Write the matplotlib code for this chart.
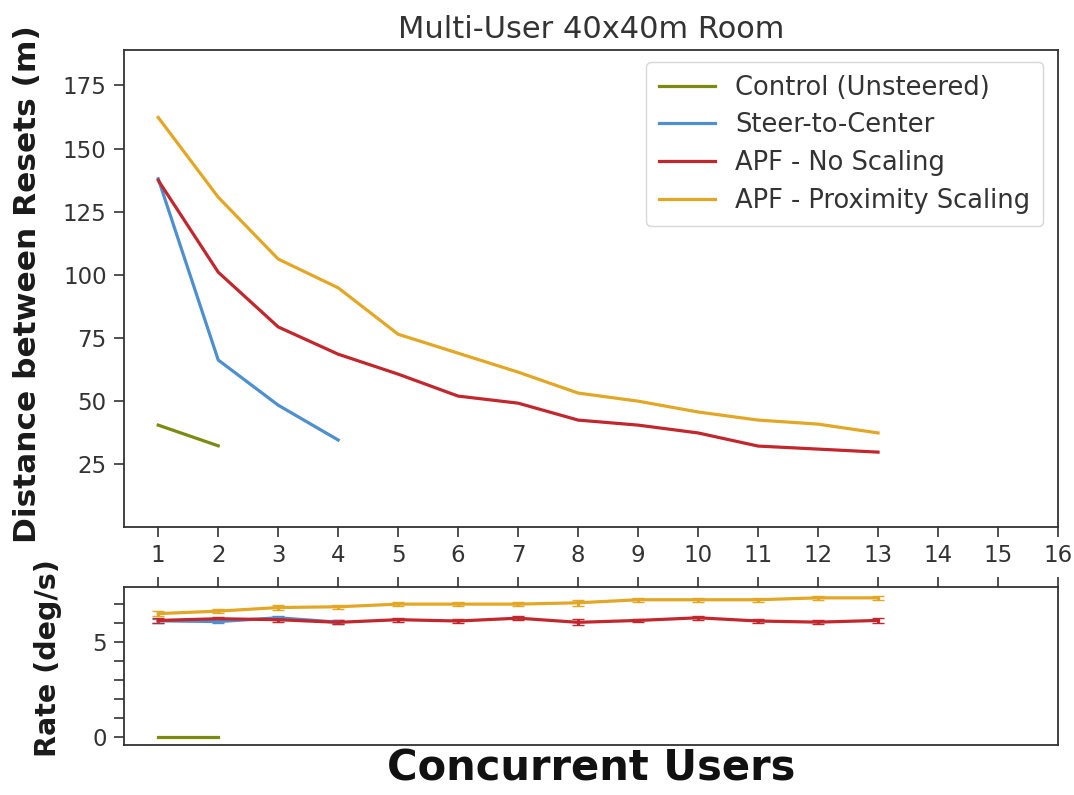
import matplotlib
matplotlib.use("Agg")
import matplotlib.pyplot as plt
from matplotlib.ticker import MultipleLocator

users = list(range(1, 14))

# Distance between resets (m)
control_dist = [40.4, 32.2]
stc_dist = [138.0, 66.2, 48.3, 34.5]
apf_no_dist = [137.4, 101.0, 79.3, 68.5, 60.6, 51.9, 49.1, 42.4, 40.4, 37.3, 32.1, 30.9, 29.7]
apf_prox_dist = [162.3, 130.7, 106.2, 94.8, 76.4, 68.9, 61.4, 53.1, 49.9, 45.6, 42.4, 40.8, 37.3]

# Rate (deg/s)
control_rate = [0.0, 0.0]
stc_rate = [6.12, 6.08, 6.28, 6.05]
apf_no_rate = [6.14, 6.23, 6.18, 6.04, 6.18, 6.11, 6.26, 6.04, 6.14, 6.28, 6.11, 6.05, 6.14]
apf_prox_rate = [6.5, 6.63, 6.82, 6.86, 7.0, 7.0, 7.0, 7.07, 7.23, 7.23, 7.23, 7.33, 7.33]
rate_err = [0.12, 0.1, 0.12, 0.1, 0.1, 0.1, 0.1, 0.15, 0.1, 0.1, 0.1, 0.1, 0.12]

labels = ["Control (Unsteered)", "Steer-to-Center", "APF - No Scaling", "APF - Proximity Scaling"]
colors = ["#7d8a12", "#4e8fcf", "#c1272d", "#e3a726"]

txt = "#333333"
plt.rcParams["text.color"] = txt
plt.rcParams["axes.labelcolor"] = txt
plt.rcParams["xtick.color"] = txt
plt.rcParams["ytick.color"] = txt
plt.rcParams["axes.edgecolor"] = "#333333"

fig = plt.figure(figsize=(10.74, 7.95), dpi=100)
ax1 = fig.add_axes([0.1155, 0.337, 0.8696, 0.600])
ax2 = fig.add_axes([0.1155, 0.0629, 0.8696, 0.1987])

lw = 2.3
ax1.plot(users[:2], control_dist, color=colors[0], lw=lw, label=labels[0])
ax1.plot(users[:4], stc_dist, color=colors[1], lw=lw, label=labels[1])
ax1.plot(users, apf_no_dist, color=colors[2], lw=lw, label=labels[2])
ax1.plot(users, apf_prox_dist, color=colors[3], lw=lw, label=labels[3])

ax1.set_xlim(0.43, 16)
ax1.set_ylim(0, 189)
ax1.set_xticks(range(1, 17))
ax1.set_yticks([25, 50, 75, 100, 125, 150, 175])
ax1.tick_params(labelsize=16.5, length=7.5, width=1.2, pad=5)
ax1.set_title("Multi-User 40x40m Room", fontsize=22, pad=9)
ax1.set_ylabel("Distance between Resets (m)", fontsize=22.5, fontweight="bold", color="#1a1a1a")
ax1.yaxis.set_label_coords(-0.088, 0.51)
leg = ax1.legend(loc="upper right", fontsize=18.5, handlelength=2.15, borderpad=0.5,
                 labelspacing=0.45, handletextpad=0.8, fancybox=True,
                 borderaxespad=0, bbox_to_anchor=(0.984, 0.975))

ax2.errorbar(users[:2], control_rate, color=colors[0], lw=lw, capsize=4)
ax2.errorbar(users[:4], stc_rate, yerr=rate_err[:4], color=colors[1], lw=lw, capsize=4)
ax2.errorbar(users, apf_no_rate, yerr=rate_err, color=colors[2], lw=lw, capsize=4)
ax2.errorbar(users, apf_prox_rate, yerr=rate_err, color=colors[3], lw=lw, capsize=4)

ax2.set_xlim(0.43, 16)
ax2.set_ylim(-0.42, 7.9)
ax2.set_xticks(range(1, 17))
ax2.yaxis.set_major_locator(MultipleLocator(5))
ax2.yaxis.set_minor_locator(MultipleLocator(1))
ax2.tick_params(axis="x", top=True, bottom=False, labelbottom=False, labeltop=False,
                length=7.5, width=1.2)
ax2.tick_params(axis="y", which="both", labelsize=16.5, length=7.5, width=1.2, pad=5)
ax2.set_ylabel("Rate (deg/s)", fontsize=20.5, fontweight="bold", color="#1a1a1a")
ax2.yaxis.set_label_coords(-0.066, 0.55)
ax2.set_xlabel("Concurrent Users", fontsize=30, fontweight="bold", labelpad=2, color="#111111")

for ax in (ax1, ax2):
    for s in ax.spines.values():
        s.set_linewidth(1.3)

fig.savefig("out.png", dpi=100)
